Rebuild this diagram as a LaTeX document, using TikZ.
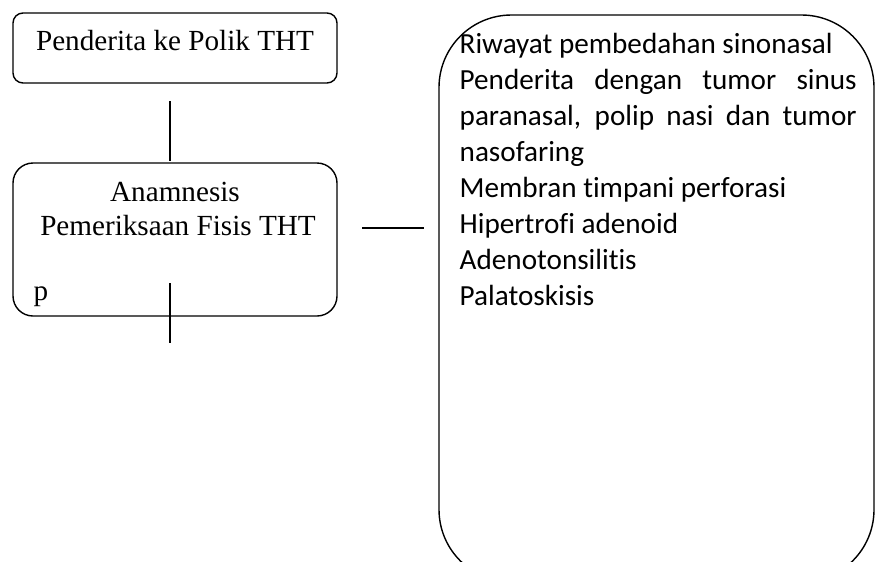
\documentclass[tikz,border=0pt]{standalone}
\usepackage{fontspec}
\setmainfont{Liberation Serif}
\newfontfamily\calibri[RawFeature=-liga]{Carlito}
\usetikzlibrary{positioning,calc}
\tikzset{
  % --- nodes
  bx/.style    = {draw=black, fill=none, minimum width=6.48cm, inner sep=0pt},
  serif/.style = {font=\fontsize{16.6}{19.5}\selectfont, inner sep=0pt},
  sans/.style  = {font=\calibri\fontsize{16.6}{20.5}\selectfont, inner sep=0pt},
  % --- edges
  ln/.style    = {draw=black, line width=0.8pt},
}

\begin{document}
\begin{tikzpicture}[line width=0.8pt]
  \useasboundingbox (0,0) rectangle (17.5,-11.22);

  \node[bx, rounded corners=0.2cm, minimum height=1.4cm] (pol) at (3.5,-0.96) {};
  \node[serif, anchor=base] (polt) at (3.5,-1.0) {Penderita ke Polik THT};

  \node[bx, rounded corners=0.4cm, minimum height=3.06cm] (anam) at (3.5,-4.79) {};
  \node[serif, anchor=base] (anamt) at (3.5,-4.02) {Anamnesis};
  \node[serif, anchor=base] (fisis) at (3.56,-4.70) {Pemeriksaan Fisis THT};
  \node[serif, anchor=base west] (p) at (0.66,-6.0) {p};

  \node[bx, rounded corners=1.45cm, minimum width=8.7cm, minimum height=11.34cm]
    (ind) at (13.13,-5.97) {};
  \node[sans, anchor=base west, text width=7.94cm, align=justify] (indt) at (9.18,-1.06)
    {Riwayat pembedahan sinonasal\\
     Penderita dengan tumor sinus\linebreak paranasal, polip nasi dan tumor\linebreak nasofaring\\
     Membran timpani perforasi\\
     Hipertrofi adenoid\\
     Adenotonsilitis\\
     Palatoskisis};

  \coordinate (l1a) at (3.4,-2.02);
  \coordinate (l1b) at (3.4,-3.22);
  \coordinate (l2a) at (3.4,-5.66);
  \coordinate (l2b) at (3.4,-6.86);
  \coordinate (l3a) at (7.24,-4.56);
  \coordinate (l3b) at (8.48,-4.56);

  \draw[ln] (l1a) -- (l1b);
  \draw[ln] (l2a) -- (l2b);
  \draw[ln] (l3a) -- (l3b);
\end{tikzpicture}
\end{document}
